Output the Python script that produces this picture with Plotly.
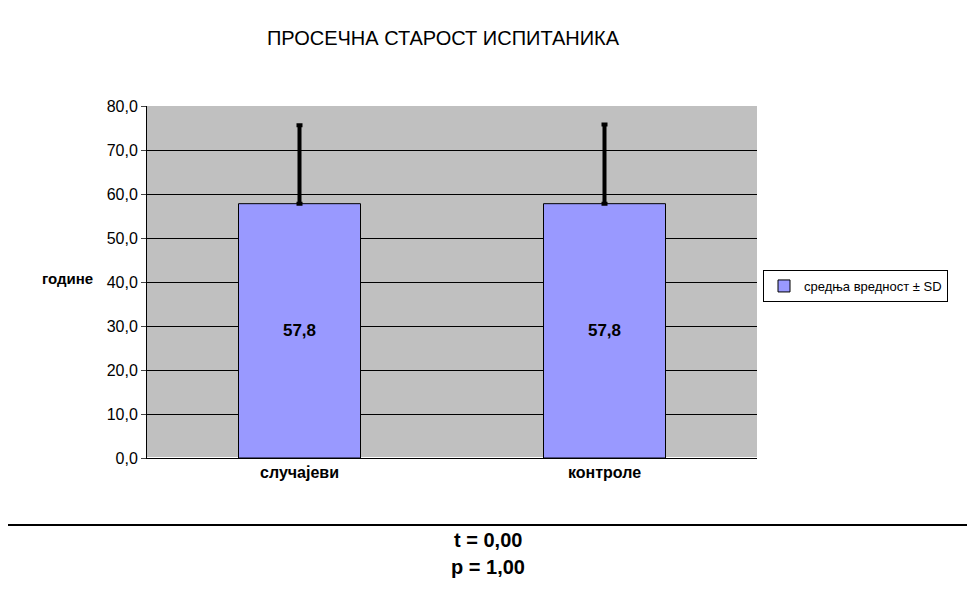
import plotly.graph_objects as go

categories = ["случајеви", "контроле"]
means = [57.8, 57.8]
sds = [17.8, 18.0]
labels = ["<b>57,8</b>", "<b>57,8</b>"]
yticks = [0, 10, 20, 30, 40, 50, 60, 70, 80]
yticklabels = ["0,0", "10,0", "20,0", "30,0", "40,0", "50,0", "60,0", "70,0", "80,0"]

fig = go.Figure()
fig.add_bar(x=categories, y=means, name="средња вредност ± SD",
            marker=dict(color="#9999ff", line=dict(color="black", width=1)),
            error_y=dict(type="data", array=sds, arrayminus=[0, 0], symmetric=False,
                         color="black", thickness=4, width=3),
            text=labels, textposition="inside", insidetextanchor="middle",
            textfont=dict(size=17, color="black", family="Liberation Sans"))

def px(x): return (x - 147) / 610
def py(y): return (458 - y) / 352

fig.update_layout(
    width=959, height=592, paper_bgcolor="white", plot_bgcolor="#c0c0c0",
    margin=dict(l=139, r=210, t=98, b=142, pad=0),
    font=dict(family="Liberation Sans", color="black"),
    bargap=0.6, showlegend=True,
    title=dict(text="ПРОСЕЧНА СТАРОСТ ИСПИТАНИКА", x=(443-8)/959, xanchor="center",
               y=1 - 30/592, yanchor="middle", font=dict(size=20)),
    legend=dict(x=px(763), y=py(270), xanchor="left", yanchor="top",
                bordercolor="black", borderwidth=1, bgcolor="white",
                font=dict(size=13)),
    xaxis=dict(showline=True, linecolor="black", ticks="outside", ticklen=0,
               tickfont=dict(size=16, family="Liberation Sans"),
               tickprefix="<b>", ticksuffix="</b>"),
    yaxis=dict(range=[0, 80], tickvals=yticks, ticktext=yticklabels,
               showline=True, linecolor="black", ticks="outside", ticklen=5,
               gridcolor="black", gridwidth=1, tickfont=dict(size=16)),
    shapes=[
        dict(type="rect", xref="paper", yref="paper", x0=px(1), x1=px(974),
             y0=py(606), y1=py(1), line=dict(color="black", width=2)),
        dict(type="line", xref="paper", yref="paper", x0=px(1), x1=px(974),
             y0=py(525), y1=py(525), line=dict(color="black", width=2)),
    ],
    annotations=[
        dict(text="<b>године</b>", xref="paper", yref="paper", x=px(40), y=py(278),
             showarrow=False, font=dict(size=15)),
        dict(text="<b>t = 0,00</b>", xref="paper", yref="paper", x=px(488), y=py(553),
             showarrow=False, font=dict(size=20)),
        dict(text="<b>p = 1,00</b>", xref="paper", yref="paper", x=px(488), y=py(580),
             showarrow=False, font=dict(size=20)),
    ],
)
fig.write_html("out.html")
